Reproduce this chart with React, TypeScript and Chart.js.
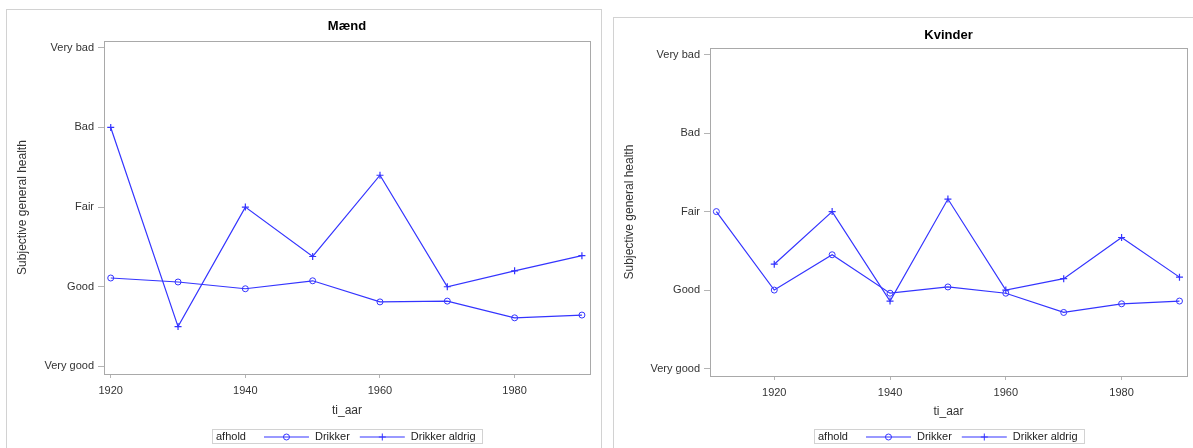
import React, { useEffect, useRef } from "react";
import { Chart, registerables } from "chart.js";

Chart.register(...registerables);

// ---------- data ----------
const healthLabels = ["Very good", "Good", "Fair", "Bad", "Very bad"];
const healthValues = [1, 2, 3, 4, 5];
const xTickValues = [1920, 1940, 1960, 1980];
const seriesLabels = ["Drikker", "Drikker aldrig"];
const legendTitle = "afhold";
const xAxisTitle = "ti_aar";
const yAxisTitle = "Subjective general health";

const maendYears = [1920, 1930, 1940, 1950, 1960, 1970, 1980, 1990];
const maendDrikker = [2.11, 2.06, 1.975, 2.075, 1.81, 1.82, 1.61, 1.645];
const maendAldrig = [4.0, 1.5, 3.0, 2.38, 3.4, 2.0, 2.2, 2.39];

const kvinderYears = [1910, 1920, 1930, 1940, 1950, 1960, 1970, 1980, 1990];
const kvinderDrikker = [3.0, 2.0, 2.45, 1.96, 2.04, 1.96, 1.715, 1.825, 1.86];
const kvinderAldrig = [null, 2.33, 3.0, 1.86, 3.16, 2.0, 2.145, 2.67, 2.165];

// ---------- style ----------
const FONT = "'Liberation Sans', Arial, Helvetica, sans-serif";
const LINE = "rgb(52,52,255)";
const TEXT = "#333333";
const AXIS = "#a9a9a9";
const TICK = "#b4b4b4";
const FRAME = "#d2d2d2";

function pts(xs: number[], ys: (number | null)[]) {
  return xs
    .map((x, i) => ({ x, y: ys[i] }))
    .filter((p) => p.y !== null && p.y !== undefined);
}

function drawMarker(ctx: CanvasRenderingContext2D, style: string, x: number, y: number) {
  ctx.beginPath();
  if (style === "circle") {
    ctx.arc(x, y, 3, 0, Math.PI * 2);
  } else {
    ctx.moveTo(x - 3.5, y);
    ctx.lineTo(x + 3.5, y);
    ctx.moveTo(x, y - 3.5);
    ctx.lineTo(x, y + 3.5);
  }
  ctx.stroke();
}

const sasPlugin = {
  id: "sasPanel",
  afterDraw(chart: any, _args: any, opts: any) {
    const { ctx, chartArea: a } = chart;
    ctx.save();
    // plot frame
    ctx.strokeStyle = AXIS;
    ctx.lineWidth = 1;
    const l = Math.round(a.left) + 0.5;
    const t = Math.round(a.top) + 0.5;
    const r = Math.round(a.right) + 0.5;
    const b = Math.round(a.bottom) + 0.5;
    ctx.strokeRect(l, t, r - l, b - t);

    // title
    ctx.fillStyle = "#000";
    ctx.font = `bold 13px ${FONT}`;
    ctx.textAlign = "center";
    ctx.textBaseline = "middle";
    ctx.fillText(opts.title, (a.left + a.right) / 2, opts.titleY);

    // legend
    ctx.font = `11px ${FONT}`;
    const wT = ctx.measureText(legendTitle).width;
    const ds = chart.data.datasets;
    const widths = ds.map((d: any) => ctx.measureText(d.label).width);
    const padL = 4, gapTitle = 18, lineLen = 45, gapText = 6, gapItem = 10, padR = 6;
    let total = padL + wT + gapTitle + padR;
    widths.forEach((w: number, i: number) => {
      total += lineLen + gapText + w + (i > 0 ? gapItem : 0);
    });
    const x0 = Math.round((a.left + a.right) / 2 - total / 2);
    const top = opts.legendTop;
    const h = 14;
    ctx.strokeStyle = FRAME;
    ctx.strokeRect(x0 + 0.5, top + 0.5, Math.round(total), h);
    const my = top + h / 2 + 1;
    ctx.fillStyle = "#222";
    ctx.textAlign = "left";
    ctx.textBaseline = "middle";
    let x = x0 + padL;
    ctx.fillText(legendTitle, x, my);
    x += wT + gapTitle;
    ds.forEach((d: any, i: number) => {
      if (i > 0) x += gapItem;
      ctx.strokeStyle = LINE;
      ctx.lineWidth = 1.2;
      ctx.beginPath();
      ctx.moveTo(x, my);
      ctx.lineTo(x + lineLen, my);
      ctx.stroke();
      ctx.lineWidth = 1;
      drawMarker(ctx, d.pointStyle, x + lineLen / 2, my);
      x += lineLen + gapText;
      ctx.fillStyle = "#222";
      ctx.fillText(d.label, x, my);
      x += widths[i];
    });
    ctx.restore();
  },
};

type PanelParams = {
  years: number[];
  drikker: (number | null)[];
  aldrig: (number | null)[];
  xMin: number;
  xMax: number;
  title: string;
  titleY: number;
  legendTop: number;
  padding: { left: number; top: number; right: number; bottom: number };
  yWidth: number;
  xHeight: number;
  yTitlePad: number;
  xTitlePad: number;
};

function makeConfig(p: PanelParams): any {
  return {
    type: "line",
    data: {
      datasets: [
        {
          label: seriesLabels[0],
          data: pts(p.years, p.drikker),
          borderColor: LINE,
          borderWidth: 1.2,
          pointStyle: "circle",
          pointRadius: 3,
          pointBackgroundColor: "rgba(0,0,0,0)",
          pointBorderColor: LINE,
          pointBorderWidth: 1,
          fill: false,
          tension: 0,
        },
        {
          label: seriesLabels[1],
          data: pts(p.years, p.aldrig),
          borderColor: LINE,
          borderWidth: 1.2,
          pointStyle: "cross",
          pointRadius: 3.5,
          pointBorderColor: LINE,
          pointBorderWidth: 1.2,
          fill: false,
          tension: 0,
        },
      ],
    },
    options: {
      animation: false,
      responsive: false,
      maintainAspectRatio: false,
      layout: { padding: p.padding },
      plugins: {
        legend: { display: false },
        title: { display: false },
        tooltip: { enabled: false },
        sasPanel: { title: p.title, titleY: p.titleY, legendTop: p.legendTop },
      },
      scales: {
        x: {
          type: "linear",
          position: "bottom",
          min: p.xMin,
          max: p.xMax,
          bounds: "data",
          afterBuildTicks: (s: any) => {
            s.ticks = xTickValues.map((v) => ({ value: v }));
          },
          afterFit: (s: any) => {
            s.height = p.xHeight;
          },
          grid: {
            display: true,
            drawOnChartArea: false,
            drawTicks: true,
            tickLength: 4,
            color: TICK,
          },
          border: { display: false },
          ticks: {
            padding: 6,
            color: TEXT,
            font: { family: FONT, size: 11 },
            maxRotation: 0,
            autoSkip: false,
            callback: (v: any) => String(v),
          },
          title: {
            display: true,
            text: xAxisTitle,
            color: TEXT,
            font: { family: FONT, size: 12 },
            padding: { top: 0, bottom: p.xTitlePad },
          },
        },
        y: {
          type: "linear",
          position: "left",
          min: 0.905,
          max: 5.085,
          bounds: "data",
          afterBuildTicks: (s: any) => {
            s.ticks = healthValues.map((v) => ({ value: v }));
          },
          afterFit: (s: any) => {
            s.width = p.yWidth;
          },
          grid: {
            display: true,
            drawOnChartArea: false,
            drawTicks: true,
            tickLength: 6,
            color: TICK,
          },
          border: { display: false },
          ticks: {
            padding: 4,
            color: TEXT,
            font: { family: FONT, size: 11 },
            autoSkip: false,
            callback: (v: any) => {
              const i = healthValues.indexOf(Number(v));
              return i >= 0 ? healthLabels[i] : "";
            },
          },
          title: {
            display: true,
            text: yAxisTitle,
            color: TEXT,
            font: { family: FONT, size: 12 },
            padding: { top: p.yTitlePad, bottom: 0 },
          },
        },
      },
    },
    plugins: [sasPlugin],
  };
}

function ChartPanel({
  left,
  top,
  width,
  height,
  params,
}: {
  left: number;
  top: number;
  width: number;
  height: number;
  params: PanelParams;
}) {
  const ref = useRef<HTMLCanvasElement | null>(null);
  useEffect(() => {
    if (!ref.current) return;
    const chart = new Chart(ref.current, makeConfig(params));
    return () => chart.destroy();
  }, []);
  return (
    <canvas
      ref={ref}
      width={width}
      height={height}
      style={{ position: "absolute", left, top, width, height, display: "block" }}
    />
  );
}

export default function App() {
  return (
    <div
      style={{
        position: "absolute",
        left: 0,
        top: 0,
        width: 1193,
        height: 448,
        overflow: "hidden",
        background: "#fff",
      }}
    >
      <div
        style={{
          position: "absolute",
          left: 6,
          top: 9,
          width: 596,
          height: 470,
          boxSizing: "border-box",
          border: `1px solid ${FRAME}`,
        }}
      />
      <div
        style={{
          position: "absolute",
          left: 613,
          top: 17,
          width: 600,
          height: 470,
          boxSizing: "border-box",
          border: `1px solid ${FRAME}`,
        }}
      />
      <ChartPanel
        left={6}
        top={9}
        width={595}
        height={439}
        params={{
          years: maendYears,
          drikker: maendDrikker,
          aldrig: maendAldrig,
          xMin: 1919,
          xMax: 1991.2,
          title: "Mænd",
          titleY: 17,
          legendTop: 420,
          padding: { left: 0, top: 32, right: 11, bottom: 0 },
          yWidth: 98,
          xHeight: 74,
          yTitlePad: 9,
          xTitlePad: 30,
        }}
      />
      <ChartPanel
        left={613}
        top={17}
        width={580}
        height={431}
        params={{
          years: kvinderYears,
          drikker: kvinderDrikker,
          aldrig: kvinderAldrig,
          xMin: 1908.9,
          xMax: 1991.3,
          title: "Kvinder",
          titleY: 18,
          legendTop: 412,
          padding: { left: 0, top: 31, right: 6, bottom: 0 },
          yWidth: 97,
          xHeight: 72,
          yTitlePad: 9,
          xTitlePad: 29,
        }}
      />
    </div>
  );
}
